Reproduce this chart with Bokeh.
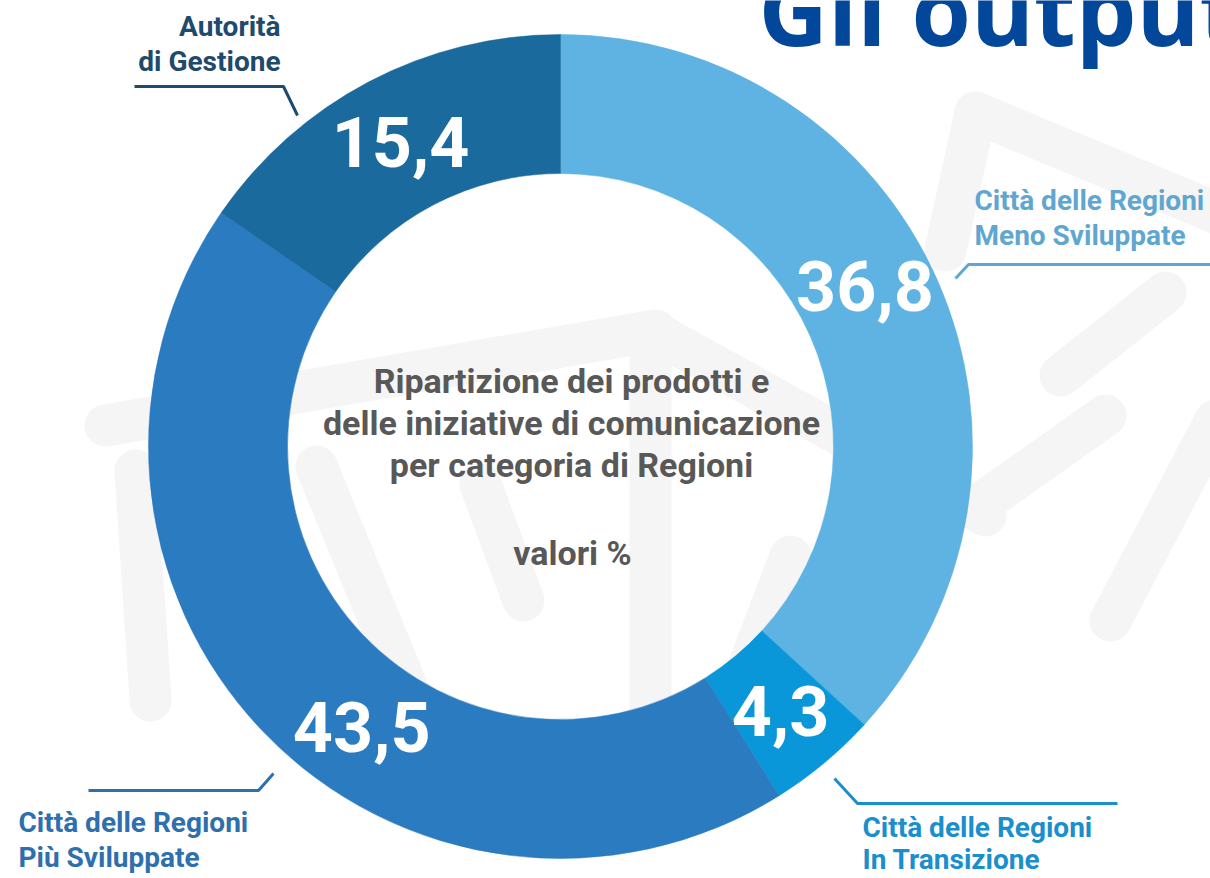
import math
from bokeh.plotting import figure
from bokeh.models import Range1d, ColumnDataSource
from bokeh.core.properties import value
from bokeh.embed import file_html
from bokeh.resources import INLINE

# ---------------- data ----------------
categories = ["Città delle Regioni Meno Sviluppate",
              "Città delle Regioni In Transizione",
              "Città delle Regioni Più Sviluppate",
              "Autorità di Gestione"]
shares = [36.8, 4.3, 43.5, 15.4]
share_labels = ["36,8", "4,3", "43,5", "15,4"]
slice_colors = ["#5EB3E3", "#0A97DA", "#2B7BC0", "#1A6A9D"]
label_colors = ["#5FA6D0", "#1B8ECD", "#2D70AD", "#1E4A6C"]
# where, along each slice (0 = start, 1 = end, clockwise), its number sits
label_frac = [0.47, 0.5, 0.43, 0.5]

center_lines = ["Ripartizione dei prodotti e",
                "delle iniziative di comunicazione",
                "per categoria di Regioni"]
center_note = "valori %"
title_text = "Gli output"

# ---------------- page geometry (screen px -> data) ----------------
W, H = 1210, 878
def Y(sy):
    return H - sy

CX, CY = 560, Y(446)
R_OUT, R_IN = 412, 273

p = figure(width=W, height=H, x_range=Range1d(0, W), y_range=Range1d(0, H),
           output_backend="svg", toolbar_location=None, min_border=0,
           background_fill_color="white", border_fill_color="white")
p.axis.visible = False
p.grid.visible = False
p.outline_line_color = None

# faint watermark strokes (decoration)
wm = [
    [(105, 425), (655, 330)],
    [(650, 335), (650, 740)],
    [(660, 335), (985, 515)],
    [(316, 466), (420, 720)],
    [(480, 484), (523, 600)],
    [(790, 556), (720, 740)],
    [(975, 112), (1215, 212)],
    [(975, 112), (945, 250)],
    [(1165, 292), (1060, 375)],
    [(1105, 415), (985, 500)],
    [(1215, 420), (1110, 620)],
    [(135, 470), (150, 700)],
]
p.multi_line(xs=[[a[0], b[0]] for a, b in wm], ys=[[Y(a[1]), Y(b[1])] for a, b in wm],
             line_color="#F5F5F5", line_width=42, line_cap="round")

# donut
total = sum(shares)
cum = [0.0]
for s in shares:
    cum.append(cum[-1] + s / total)
starts = [math.pi / 2 - 2 * math.pi * cum[i + 1] for i in range(len(shares))]
ends = [math.pi / 2 - 2 * math.pi * cum[i] for i in range(len(shares))]
lab_ang = [e - f * (e - s) for s, e, f in zip(starts, ends, label_frac)]
r_lab = (R_OUT + R_IN) / 2 + 1.5
src = ColumnDataSource(dict(
    start=starts, end=ends, color=slice_colors, cat=categories,
    lx=[CX + r_lab * math.cos(m) for m in lab_ang],
    ly=[CY + r_lab * math.sin(m) for m in lab_ang],
    lab=share_labels))
p.annular_wedge(x=CX, y=CY, inner_radius=R_IN, outer_radius=R_OUT,
                start_angle="start", end_angle="end", direction="anticlock",
                fill_color="color", line_color="color", line_width=0.5, source=src)
p.text(x="lx", y="ly", text="lab", source=src, text_color="white",
       text_font=value("Roboto"), text_font_style="bold", text_font_size="70px",
       text_align="center", text_baseline="middle")

# centre text (y = vertical middle of capitals)
for i, t in enumerate(center_lines):
    p.text(x=[CX + 11], y=[Y(380 + 42 * i)], text=[t], text_color="#585858",
           text_font=value("Roboto"), text_font_style="bold", text_font_size="34px",
           text_align="center", text_baseline="middle")
p.text(x=[CX + 12], y=[Y(552)], text=[center_note], text_color="#585858",
       text_font=value("Roboto"), text_font_style="bold", text_font_size="34px",
       text_align="center", text_baseline="middle")

# category labels with leader lines
lab_font = value("Roboto")
def label(lines, x, y0, align, color, gap=34.5):
    for k, t in enumerate(lines):
        p.text(x=[x], y=[Y(y0 + gap * k)], text=[t], text_color=color,
               text_font=lab_font, text_font_style="bold", text_font_size="28px",
               text_align=align, text_baseline="middle")

def leader(pts, color):
    p.line(x=[a for a, b in pts], y=[Y(b) for a, b in pts], line_color=color, line_width=3)

# Meno Sviluppate
label(["Città delle Regioni", "Meno Sviluppate"], 974, 200, "left", label_colors[0])
leader([(955, 278), (968, 264), (1215, 264)], label_colors[0])
# In Transizione
label(["Città delle Regioni", "In Transizione"], 862, 827, "left", label_colors[1], gap=32)
leader([(834, 778), (857, 803), (1117, 803)], label_colors[1])
# Più Sviluppate
label(["Città delle Regioni", "Più Sviluppate"], 18, 822, "left", label_colors[2])
leader([(88, 790), (258, 790), (273, 773)], label_colors[2])
# Autorità di Gestione
label(["Autorità", "di Gestione"], 280, 26, "right", label_colors[3])
leader([(134, 86), (283, 86), (297, 115)], label_colors[3])

# title (cut at top/right as in the page)
p.text(x=[758], y=[Y(8)], text=[title_text], text_color="#03479A",
       text_font=value("Open Sans"), text_font_style="bold", text_font_size="96px",
       text_align="left", text_baseline="middle")

open("out.html", "w").write(file_html(p, INLINE))
